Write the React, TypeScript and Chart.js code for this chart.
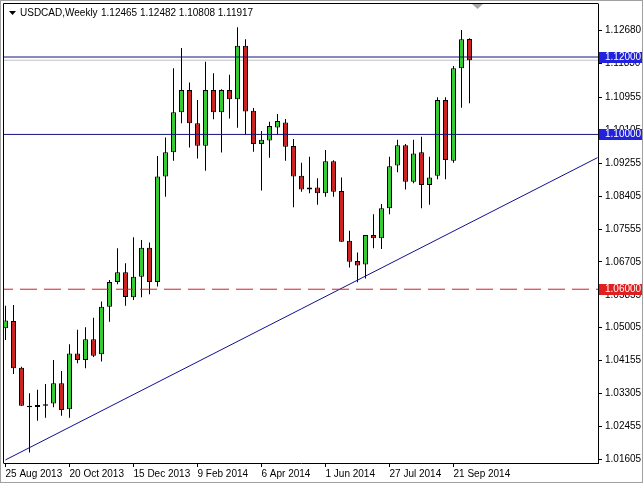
import React, { useEffect, useRef } from 'react';
import { Chart, registerables } from 'chart.js';

Chart.register(...registerables);

const symbolTitle = 'USDCAD,Weekly';
const headerValues = '1.12465 1.12482 1.10808 1.11917';

const dateTickIndex = [0, 8, 16, 24, 32, 40, 48, 56];
const dateTickLabels = ['25 Aug 2013', '20 Oct 2013', '15 Dec 2013', '9 Feb 2014', '6 Apr 2014', '1 Jun 2014', '27 Jul 2014', '21 Sep 2014'];

const priceTicks = [1.01605, 1.02455, 1.03305, 1.04155, 1.05005, 1.05855, 1.06705, 1.07555, 1.08405, 1.09255, 1.10105, 1.10955, 1.1183, 1.1268];

const opens = [
  1.0499, 1.0518, 1.0397, 1.0299, 1.0296, 1.0299, 1.0305, 1.0357, 1.029, 1.0434,
  1.0417, 1.0471, 1.0432, 1.0555, 1.0619, 1.0644, 1.0579, 1.0632, 1.0707, 1.0619,
  1.0891, 1.0954, 1.1057, 1.1115, 1.1029, 1.0971, 1.1115, 1.1057, 1.1115, 1.1091,
  1.1229, 1.1061, 1.0975, 1.0984, 1.1018, 1.1031, 1.097, 1.0893, 1.0858, 1.0863,
  1.0848, 1.0931, 1.0854, 1.0725, 1.0673, 1.0664, 1.074, 1.0732, 1.0809, 1.092,
  1.0972, 1.0878, 1.0954, 1.0869, 1.0893, 1.1089, 1.0932, 1.1171, 1.12465,
];
const highs = [
  1.0557, 1.0559, 1.04, 1.0331, 1.034, 1.0355, 1.0417, 1.0389, 1.0458, 1.0495,
  1.0502, 1.0526, 1.0568, 1.0624, 1.0706, 1.0667, 1.0734, 1.0727, 1.0721, 1.0944,
  1.0992, 1.1171, 1.1223, 1.1134, 1.1089, 1.1188, 1.1158, 1.1117, 1.1154, 1.1277,
  1.1246, 1.1068, 1.1009, 1.1033, 1.1053, 1.104, 1.0988, 1.0927, 1.0942, 1.0887,
  1.096, 1.0933, 1.0889, 1.0751, 1.0695, 1.074, 1.0794, 1.082, 1.0942, 1.0986,
  1.0975, 1.0986, 1.0994, 1.0942, 1.1096, 1.1096, 1.1177, 1.127, 1.12482,
];
const lows = [
  1.0469, 1.0381, 1.0298, 1.0178, 1.026, 1.0268, 1.0295, 1.0273, 1.0268, 1.0409,
  1.0396, 1.0425, 1.0413, 1.0516, 1.0613, 1.0557, 1.0572, 1.0579, 1.0587, 1.0607,
  1.0839, 1.0932, 1.1029, 1.0966, 1.0938, 1.0906, 1.1039, 1.0953, 1.1041, 1.1017,
  1.0999, 1.0955, 1.0855, 1.094, 1.0999, 1.0932, 1.0812, 1.0852, 1.0848, 1.0818,
  1.0839, 1.0839, 1.0722, 1.0656, 1.0618, 1.0628, 1.0706, 1.0704, 1.0794, 1.0902,
  1.0858, 1.0874, 1.0809, 1.0818, 1.0884, 1.0884, 1.0927, 1.1069, 1.10808,
];
const closes = [
  1.0519, 1.0396, 1.0299, 1.0295, 1.0301, 1.0303, 1.0357, 1.0288, 1.0434, 1.0417,
  1.0471, 1.0428, 1.0555, 1.0619, 1.0644, 1.058, 1.0632, 1.0707, 1.0619, 1.0891,
  1.0954, 1.1057, 1.1115, 1.1029, 1.0971, 1.1115, 1.1057, 1.1115, 1.1091, 1.1229,
  1.1059, 1.0975, 1.0986, 1.1022, 1.1035, 1.0968, 1.0891, 1.0858, 1.0863, 1.0848,
  1.0931, 1.0852, 1.0723, 1.0671, 1.0661, 1.074, 1.0732, 1.0809, 1.0918, 1.0972,
  1.0878, 1.0951, 1.0869, 1.0889, 1.1089, 1.0934, 1.1171, 1.1246, 1.11917,
];

const trendX = [0, 74];
const trendY = [1.0159, 1.094];
const blueLevels = [1.12, 1.1];
const redLevel = 1.06;
const bidPrice = 1.11917;

const X_MIN = -0.1875;
const X_MAX = 74.0625;
const Y_MIN = 1.0151;
const Y_MAX = 1.1337;

const GREEN = '#33cc33';
const RED = '#cc2222';
const NAVY = '#14147a';
const FONT = { family: '"Liberation Sans", Arial, sans-serif', size: 10 };
const FONT_CSS = '10px "Liberation Sans", Arial, sans-serif';

const decorPlugin = {
  id: 'mtDecor',
  afterDraw(chart: any) {
    const ctx = chart.ctx as CanvasRenderingContext2D;
    const ys = chart.scales.y;
    const area = chart.chartArea;
    ctx.save();
    // outer window border
    ctx.strokeStyle = '#a0a0a0';
    ctx.lineWidth = 1;
    ctx.strokeRect(0.5, 0.5, 642, 482);
    // plot frame (top & left)
    ctx.strokeStyle = '#000';
    ctx.beginPath();
    ctx.moveTo(area.left - 0.5, area.bottom + 0.5);
    ctx.lineTo(area.left - 0.5, area.top - 0.5);
    ctx.lineTo(area.right + 0.5, area.top - 0.5);
    ctx.stroke();

    // axis labels for levels
    const boxL = area.right + 1;
    const boxW = 642 - boxL;
    const bidY = Math.round(ys.getPixelForValue(bidPrice));
    ctx.fillStyle = '#000';
    ctx.fillRect(boxL, bidY - 5, boxW, 8);
    const drawBox = (price: number, bg: string) => {
      const y = Math.round(ys.getPixelForValue(price));
      ctx.fillStyle = bg;
      ctx.fillRect(boxL, y - 5, boxW, 11);
      ctx.fillStyle = '#fff';
      ctx.font = FONT_CSS;
      ctx.textBaseline = 'middle';
      ctx.textAlign = 'left';
      ctx.fillText(price.toFixed(5), area.right + 7, y + 0.5);
    };
    blueLevels.forEach((p) => drawBox(p, '#2222dd'));
    drawBox(redLevel, '#e02020');

    // header
    ctx.fillStyle = '#000';
    ctx.beginPath();
    ctx.moveTo(9, 11);
    ctx.lineTo(16, 11);
    ctx.lineTo(12.5, 15);
    ctx.closePath();
    ctx.fill();
    ctx.font = FONT_CSS;
    ctx.textBaseline = 'middle';
    ctx.textAlign = 'left';
    ctx.fillText(symbolTitle, 20, 13);
    ctx.fillText(headerValues, 101, 13);

    // chart shift marker
    ctx.fillStyle = '#a8a8a8';
    ctx.beginPath();
    ctx.moveTo(472, area.top);
    ctx.lineTo(483, area.top);
    ctx.lineTo(477.5, area.top + 5);
    ctx.closePath();
    ctx.fill();
    ctx.restore();
  },
};

export default function App() {
  const ref = useRef<HTMLCanvasElement>(null);
  useEffect(() => {
    const idx = opens.map((_, i) => i);
    const up = idx.map((i) => closes[i] >= opens[i]);
    const hLine = (p: number) => [
      { x: X_MIN - 1, y: p },
      { x: X_MAX + 1, y: p },
    ];
    const lineBase = { type: 'line', pointRadius: 0, borderWidth: 1, fill: false, tension: 0 };
    const chart = new Chart(ref.current as HTMLCanvasElement, {
      type: 'bar',
      data: {
        datasets: [
          ...blueLevels.map((p) => ({ ...lineBase, label: 'lvl' + p, data: hLine(p), borderColor: NAVY, order: 0 })),
          { ...lineBase, label: 'support', data: hLine(redLevel), borderColor: '#d42020', borderDash: [17, 7], order: 0 },
          {
            ...lineBase,
            label: 'trend',
            data: trendX.map((x, k) => ({ x, y: trendY[k] })),
            borderColor: '#101090',
            order: 0,
          },
          {
            type: 'bar',
            label: 'body',
            data: idx.map((i) => ({ x: i, y: [opens[i], closes[i]] })),
            backgroundColor: up.map((u) => (u ? GREEN : RED)),
            borderColor: '#000',
            borderWidth: 1,
            borderSkipped: false,
            barThickness: 5,
            grouped: false,
            inflateAmount: 0,
            order: 1,
          },
          {
            type: 'bar',
            label: 'wick',
            data: idx.map((i) => ({ x: i, y: [lows[i], highs[i]] })),
            backgroundColor: '#000',
            borderWidth: 0,
            barThickness: 1,
            grouped: false,
            inflateAmount: 0,
            order: 2,
          },
          { ...lineBase, label: 'bid', data: hLine(bidPrice), borderColor: '#c0c0c8', order: 3 },
        ] as any,
      },
      options: {
        responsive: false,
        animation: false,
        devicePixelRatio: 1,
        layout: { padding: { left: 4, top: 4, right: 0, bottom: 0 } },
        plugins: { legend: { display: false }, tooltip: { enabled: false }, title: { display: false } },
        scales: {
          x: {
            type: 'linear',
            position: 'bottom',
            min: X_MIN,
            max: X_MAX,
            offset: false,
            afterBuildTicks: (s: any) => {
              s.ticks = dateTickIndex.map((v) => ({ value: v }));
            },
            afterFit: (s: any) => {
              s.height = 20;
              s.paddingLeft = 0;
              s.paddingRight = 0;
            },
            ticks: {
              align: 'start',
              autoSkip: false,
              maxRotation: 0,
              minRotation: 0,
              padding: 1,
              color: '#000',
              font: FONT,
              callback: (_v: any, i: number) => dateTickLabels[i],
            },
            grid: { drawOnChartArea: false, drawTicks: true, tickLength: 4, color: '#000', offset: false },
            border: { display: true, color: '#000' },
          },
          y: {
            type: 'linear',
            position: 'right',
            min: Y_MIN,
            max: Y_MAX,
            beginAtZero: false,
            afterBuildTicks: (s: any) => {
              s.ticks = priceTicks.map((v) => ({ value: v }));
            },
            afterFit: (s: any) => {
              s.width = 45;
              s.paddingTop = 0;
              s.paddingBottom = 0;
            },
            ticks: {
              autoSkip: false,
              padding: 3,
              color: '#000',
              font: FONT,
              callback: (v: any) => Number(v).toFixed(5),
            },
            grid: { drawOnChartArea: false, drawTicks: true, tickLength: 4, color: '#000' },
            border: { display: true, color: '#000' },
          },
        },
      } as any,
      plugins: [decorPlugin],
    });
    return () => chart.destroy();
  }, []);
  return (
    <div style={{ position: 'absolute', left: 0, top: 0, width: 643, height: 483, background: '#fff' }}>
      <canvas ref={ref} width={643} height={483} style={{ display: 'block' }} />
    </div>
  );
}
